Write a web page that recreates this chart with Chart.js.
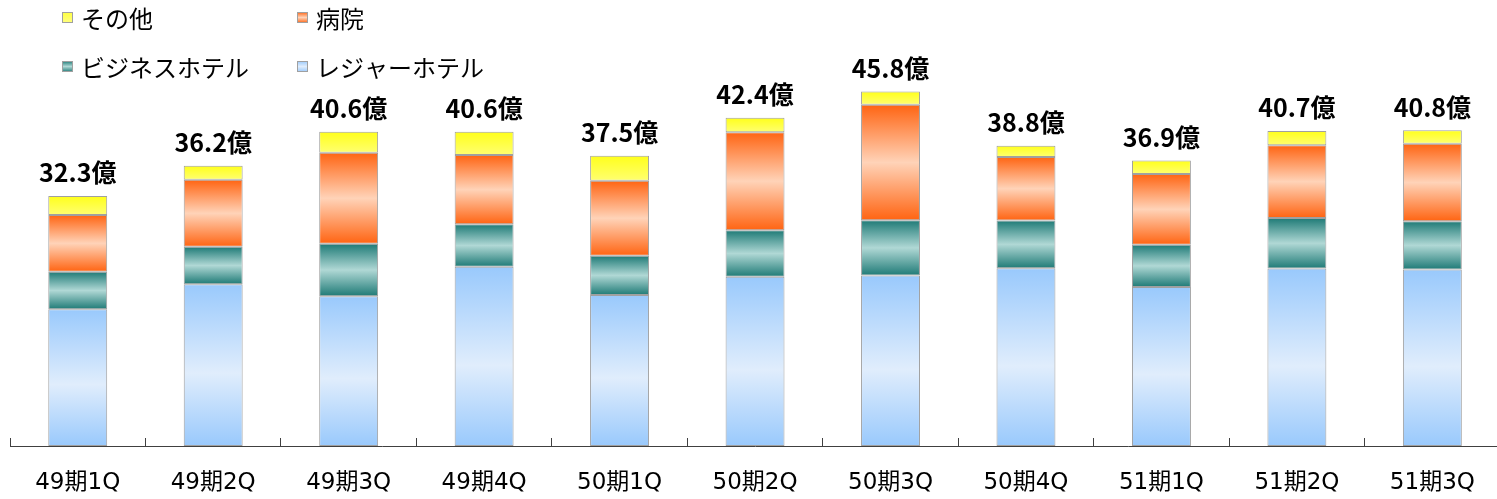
<!DOCTYPE html>
<html>
<head>
<meta charset="utf-8">
<script src="https://cdn.jsdelivr.net/npm/chart.js@4"></script>
<style>
  html, body { margin: 0; padding: 0; background: #fff; overflow: hidden; }
  #wrap { position: relative; width: 1506px; height: 499px; }
</style>
</head>
<body>
<div id="wrap"><canvas id="c"></canvas></div>
<script>
// ---- Data ----
const categories = ['49期1Q','49期2Q','49期3Q','49期4Q','50期1Q','50期2Q','50期3Q','50期4Q','51期1Q','51期2Q','51期3Q'];
const seriesNames = ['レジャーホテル','ビジネスホテル','病院','その他'];
const leisureHotel  = [17.66, 20.91, 19.36, 23.16, 19.50, 21.86, 22.02, 22.95, 20.54, 22.92, 22.80];
const businessHotel = [4.86, 4.82, 6.77, 5.48, 5.08, 6.02, 7.16, 6.20, 5.47, 6.54, 6.24];
const hospital      = [7.33, 8.66, 11.76, 8.95, 9.69, 12.66, 14.90, 8.19, 9.13, 9.39, 10.00];
const others        = [2.45, 1.81, 2.71, 3.01, 3.23, 1.86, 1.72, 1.46, 1.76, 1.85, 1.76];
const unitSuffix = '億';

const FONT = '"Noto Sans CJK JP", "Noto Sans", sans-serif';
const LABEL_FONT = '"DejaVu Sans", "Noto Sans CJK JP", sans-serif';

// gradient palettes: [edge, middle]
const palettes = [
  ['#99C9FC', '#E0EDFC'],
  ['#1E7A76', '#B0D8D5'],
  ['#FF6412', '#FFD3B8'],
  ['#FFFF1A', '#FFFF70']
];

function segGradient(dsIndex) {
  return (ctx) => {
    const pal = palettes[dsIndex];
    if (ctx.type !== 'data') return pal[0];
    const chart = ctx.chart;
    const y = chart.scales.y;
    if (!y) return pal[0];
    const i = ctx.dataIndex;
    let start = 0;
    for (let k = 0; k < dsIndex; k++) start += chart.data.datasets[k].data[i];
    const end = start + chart.data.datasets[dsIndex].data[i];
    const top = y.getPixelForValue(end), bot = y.getPixelForValue(start);
    if (!isFinite(top) || !isFinite(bot) || top === bot) return pal[0];
    const g = chart.ctx.createLinearGradient(0, top, 0, bot);
    if (dsIndex === 3) {
      g.addColorStop(0, pal[0]);
      g.addColorStop(1, pal[1]);
    } else if (dsIndex === 0) {
      g.addColorStop(0, pal[0]);
      g.addColorStop(0.55, pal[1]);
      g.addColorStop(1, pal[0]);
    } else {
      g.addColorStop(0, pal[0]);
      g.addColorStop(0.5, pal[1]);
      g.addColorStop(1, pal[0]);
    }
    return g;
  };
}

const seriesData = [leisureHotel, businessHotel, hospital, others];
const datasets = seriesData.map((d, k) => ({
  label: seriesNames[k],
  data: d,
  backgroundColor: segGradient(k),
  borderColor: '#A0A0A0',
  borderWidth: 1,
  borderSkipped: false,
  categoryPercentage: 1.0,
  barPercentage: 0.435
}));

const totalsPlugin = {
  id: 'totals',
  afterDatasetsDraw(chart) {
    const {ctx, scales: {x, y}} = chart;
    ctx.save();
    ctx.font = 'bold 25px ' + FONT;
    ctx.fillStyle = '#000';
    ctx.textAlign = 'center';
    ctx.textBaseline = 'middle';
    categories.forEach((c, i) => {
      let total = 0;
      chart.data.datasets.forEach(ds => total += ds.data[i]);
      const px = x.getPixelForValue(i);
      const py = y.getPixelForValue(total);
      ctx.fillText(total.toFixed(1) + unitSuffix, px, py - 23);
    });
    ctx.restore();
  }
};

const legendItems = [
  {ds: 3, col: 0, row: 0},
  {ds: 2, col: 1, row: 0},
  {ds: 1, col: 0, row: 1},
  {ds: 0, col: 1, row: 1}
];
const legendPlugin = {
  id: 'customLegend',
  afterDraw(chart) {
    const ctx = chart.ctx;
    const colX = [62, 297];
    const rowY = [18, 67];
    ctx.save();
    legendItems.forEach(it => {
      const sx = colX[it.col], cy = rowY[it.row];
      const sy = cy - 6;
      const pal = palettes[it.ds];
      const g = ctx.createLinearGradient(0, sy, 0, sy + 11);
      if (it.ds === 3) { g.addColorStop(0, '#FFFF40'); g.addColorStop(1, '#FFFF80'); }
      else { g.addColorStop(0, pal[0]); g.addColorStop(0.5, pal[1]); g.addColorStop(1, pal[0]); }
      ctx.fillStyle = g;
      ctx.fillRect(sx, sy, 11, 11);
      ctx.strokeStyle = '#A0A0A0';
      ctx.lineWidth = 1;
      ctx.strokeRect(sx + 0.5, sy + 0.5, 10, 10);
      ctx.fillStyle = '#000';
      ctx.font = '24px ' + FONT;
      ctx.textAlign = 'left';
      ctx.textBaseline = 'middle';
      ctx.fillText(chart.data.datasets[it.ds].label, sx + 19, cy + 1);
    });
    ctx.restore();
  }
};

new Chart(document.getElementById('c'), {
  type: 'bar',
  data: { labels: categories, datasets },
  options: {
    responsive: true,
    maintainAspectRatio: false,
    animation: false,
    layout: { padding: { left: 10, right: 3, top: 59, bottom: 0 } },
    plugins: {
      legend: { display: false },
      tooltip: { enabled: false }
    },
    scales: {
      x: {
        stacked: true,
        offset: true,
        grid: {
          offset: true,
          drawOnChartArea: false,
          drawTicks: true,
          tickLength: -8,
          color: '#404040',
          lineWidth: 1
        },
        border: { display: true, color: '#404040', width: 1 },
        ticks: {
          color: '#000',
          font: { family: LABEL_FONT, size: 23 },
          padding: 31,
          maxRotation: 0,
          autoSkip: false
        },
        afterFit(scale) { scale.height = 53; }
      },
      y: {
        stacked: true,
        display: false,
        min: 0,
        max: 50
      }
    }
  },
  plugins: [totalsPlugin, legendPlugin]
});
</script>
</body>
</html>
